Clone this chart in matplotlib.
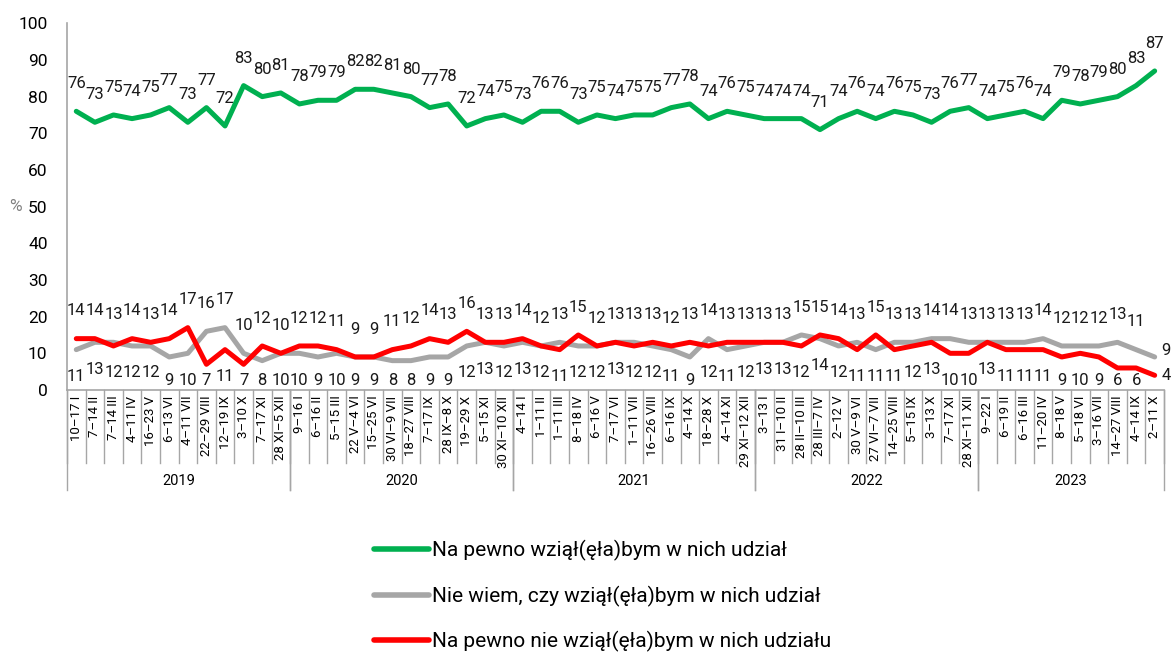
"""Poll chart: willingness to take part (2019-2023)."""

import matplotlib
matplotlib.use('Agg')  # noqa: E402
import matplotlib.pyplot as plt  # noqa: E402
from matplotlib.transforms import blended_transform_factory  # noqa: E402

# --- data -----------------------------------------------------------------
years = ["2019", "2020", "2021", "2022", "2023"]
year_sizes = [12, 12, 13, 12, 10]

dates = [
    "10–17 I", "7–14 II", "7–14 III", "4–11 IV", "16–23 V", "6–13 VI",
    "4–11 VII", "22–29 VIII", "12–19 IX", "3–10 X", "7–17 XI", "28 XI–5 XII",
    "9–16 I", "6–16 II", "5–15 III", "22 V–4 VI", "15–25 VI", "30 VI–9 VII",
    "18–27 VIII", "7–17 IX", "28 IX–8 X", "19–29 X", "5–15 XI", "30 XI–10 XII",
    "4–14 I", "1–11 II", "1–11 III", "8–18 IV", "6–16 V", "7–17 VI",
    "1–11 VII", "16–26 VIII", "6–16 IX", "4–14 X", "18–28 X", "4–14 XI",
    "29 XI–12 XII",
    "3–13 I", "31 I–10 II", "28 II–10 III", "28 III–7 IV", "2–12 V",
    "30 V–9 VI", "27 VI–7 VII", "14–25 VIII", "5–15 IX", "3–13 X",
    "7–17 XI", "28 XI–11 XII",
    "9–22 I", "6–19 II", "6–16 III", "11–20 IV", "8–18 V", "5–18 VI",
    "3–16 VII", "14–27 VIII", "4–14 IX", "2–11 X",
]

sure_yes = [
    76, 73, 75, 74, 75, 77, 73, 77, 72, 83, 80, 81,
    78, 79, 79, 82, 82, 81, 80, 77, 78, 72, 74, 75,
    73, 76, 76, 73, 75, 74, 75, 75, 77, 78, 74, 76, 75,
    74, 74, 74, 71, 74, 76, 74, 76, 75, 73, 76, 77,
    74, 75, 76, 74, 79, 78, 79, 80, 83, 87,
]
dont_know = [
    11, 13, 13, 12, 12, 9, 10, 16, 17, 10, 8, 10,
    10, 9, 10, 9, 9, 8, 8, 9, 9, 12, 13, 12,
    13, 12, 13, 12, 12, 13, 13, 12, 11, 9, 14, 11, 12,
    13, 13, 15, 14, 12, 13, 11, 13, 13, 14, 14, 13,
    13, 13, 13, 14, 12, 12, 12, 13, 11, 9,
]
sure_no = [
    14, 14, 12, 14, 13, 14, 17, 7, 11, 7, 12, 10,
    12, 12, 11, 9, 9, 11, 12, 14, 13, 16, 13, 13,
    14, 12, 11, 15, 12, 13, 12, 13, 12, 13, 12, 13, 13,
    13, 13, 12, 15, 14, 11, 15, 11, 12, 13, 10, 10,
    13, 11, 11, 11, 9, 10, 9, 6, 6, 4,
]

series_names = [
    "Na pewno wziął(ęła)bym w nich udział",
    "Nie wiem, czy wziął(ęła)bym w nich udział",
    "Na pewno nie wziął(ęła)bym w nich udziału",
]
colors = ["#00B050", "#A6A6A6", "#FF0000"]

narrow = ["Liberation Sans Narrow", "Roboto", "DejaVu Sans"]
plt.rcParams["font.family"] = ["Roboto", "DejaVu Sans"]

fig = plt.figure(figsize=(11.73, 6.54), dpi=100)
ax = fig.add_axes([0.0571, 0.4037, 0.9352, 0.5607])

x = list(range(len(dates)))
ax.plot(x, dont_know, color=colors[1], lw=3.6, solid_capstyle="round",
        zorder=2)
ax.plot(x, sure_no, color=colors[2], lw=3.6, solid_capstyle="round",
        zorder=3)
ax.plot(x, sure_yes, color=colors[0], lw=3.6, solid_capstyle="round",
        zorder=4)

# data labels (offsets in data units)
lab_kw = dict(ha="center", va="center", fontsize=12, family=narrow,
              color="#1a1a1a")
last = len(dates) - 1
for i in x:
    ax.text(i, sure_yes[i] + 7.5, str(sure_yes[i]), **lab_kw)
    hi = max(dont_know[i], sure_no[i])
    lo = min(dont_know[i], sure_no[i])
    if i == last:
        # last point: labels sit to the right of the line ends
        ax.annotate(str(hi), (i, hi), xytext=(5, 5),
                    textcoords="offset points", ha="left", va="center",
                    fontsize=12, family=narrow, color="#1a1a1a",
                    annotation_clip=False)
        ax.annotate(str(lo), (i, lo), xytext=(5, 0),
                    textcoords="offset points", ha="left", va="center",
                    fontsize=12, family=narrow, color="#1a1a1a",
                    annotation_clip=False)
        continue
    ax.text(i, hi + 7.6, str(hi), **lab_kw)
    ax.text(i, max(lo - 7.3, 2.6), str(lo), **lab_kw)

ax.set_xlim(-0.5, len(dates) - 0.5)
ax.set_ylim(0, 100)
ax.set_yticks(range(0, 101, 10))
ax.tick_params(axis="y", length=0, pad=14, labelsize=12.5)
for t in ax.get_yticklabels():
    t.set_family(narrow)
ax.set_xticks(x)
ax.set_xticklabels(dates, rotation=90, fontsize=9.5, family=narrow)
ax.tick_params(axis="x", length=0, pad=4)

for s in ["top", "right"]:
    ax.spines[s].set_visible(False)
for s in ["left", "bottom"]:
    ax.spines[s].set_color("#A6A6A6")
    ax.spines[s].set_linewidth(1.2)

fig.text(0.0077, 0.4037 + 0.5607 * 0.5, "%", fontsize=12.5, color="#808080",
         va="center", ha="left", family=narrow)

# category separators and year groups below the axis
trans = blended_transform_factory(ax.transData, ax.transAxes)
for i in range(len(dates) + 1):
    ax.plot([i - 0.5, i - 0.5], [0, -0.199], transform=trans,
            color="#A6A6A6", lw=1, clip_on=False)
start = 0
for yr, n in zip(years, year_sizes):
    for edge in (start, start + n):
        ax.plot([edge - 0.5, edge - 0.5], [0, -0.273], transform=trans,
                color="#A6A6A6", lw=1, clip_on=False)
    ax.text(start + n / 2 - 0.5, -0.248, yr, transform=trans, ha="center",
            va="center", fontsize=10.5, family=narrow)
    start += n

# legend
handles = [plt.Line2D([], [], color=c, lw=4, solid_capstyle="round")
           for c in colors]
fig.legend(handles, series_names, loc="center", ncol=1,
           bbox_to_anchor=(0.514, 0.0887), frameon=False, fontsize=15,
           handlelength=2.65, handletextpad=0.15, labelspacing=1.16)

fig.savefig("out.png", dpi=100)
plt.close(fig)
